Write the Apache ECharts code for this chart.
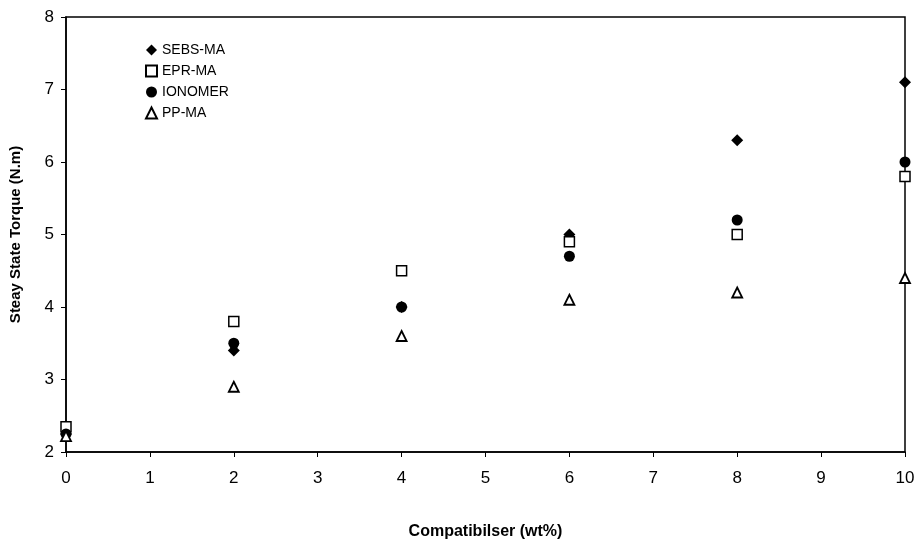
<!DOCTYPE html>
<html>
<head>
<meta charset="utf-8">
<script src="https://cdn.jsdelivr.net/npm/echarts@6/dist/echarts.min.js"></script>
<style>html,body{margin:0;padding:0;background:#fff}#c{width:920px;height:558px}</style>
</head>
<body>
<div id="c"></div>
<script>
var xValues = [0, 2, 4, 6, 8, 10];
var sebsMA  = [2.25, 3.4, 4.0, 5.0, 6.3, 7.1];
var eprMA   = [2.35, 3.8, 4.5, 4.9, 5.0, 5.8];
var ionomer = [2.25, 3.5, 4.0, 4.7, 5.2, 6.0];
var ppMA    = [2.22, 2.9, 3.6, 4.1, 4.2, 4.4];
var seriesNames = ['SEBS-MA', 'EPR-MA', 'IONOMER', 'PP-MA'];

function pts(arr) { return xValues.map(function (x, i) { return [x, arr[i]]; }); }

var chart = echarts.init(document.getElementById('c'));
var font = 'Liberation Sans, Arial, sans-serif';
chart.setOption({
  animation: false,
  grid: { left: 66, right: 15, top: 17, bottom: 106, show: true, borderColor: '#000', borderWidth: 1.5 },
  legend: {
    left: 140, top: 38, orient: 'vertical', itemGap: 7, itemWidth: 11, itemHeight: 11,
    textStyle: { fontFamily: font, fontSize: 14, color: '#000' },
    data: seriesNames
  },
  xAxis: {
    type: 'value', min: 0, max: 10, interval: 1,
    name: 'Compatibilser (wt%)', nameLocation: 'middle', nameGap: 72,
    nameTextStyle: { fontFamily: font, fontSize: 16, fontWeight: 'bold', color: '#000' },
    axisLine: { onZero: false, lineStyle: { color: '#000', width: 1.5 } },
    axisTick: { show: true, length: 5, lineStyle: { color: '#000' } },
    axisLabel: { fontFamily: font, fontSize: 17, color: '#000', margin: 18 },
    splitLine: { show: false }
  },
  yAxis: {
    type: 'value', min: 2, max: 8, interval: 1,
    name: 'Steay State Torque (N.m)', nameLocation: 'middle', nameGap: 43,
    nameTextStyle: { fontFamily: font, fontSize: 15, fontWeight: 'bold', color: '#000' },
    axisLine: { show: true, onZero: false, lineStyle: { color: '#000', width: 1.5 } },
    axisTick: { show: true, length: 5, lineStyle: { color: '#000' } },
    axisLabel: { fontFamily: font, fontSize: 17, color: '#000', margin: 12 },
    splitLine: { show: false }
  },
  series: [
    { name: seriesNames[0], type: 'scatter', symbol: 'diamond', symbolSize: 12, data: pts(sebsMA),
      itemStyle: { color: '#000', opacity: 1 } },
    { name: seriesNames[1], type: 'scatter', symbol: 'rect', symbolSize: 10, data: pts(eprMA),
      itemStyle: { color: '#fff', borderColor: '#000', borderWidth: 1.5, opacity: 1 } },
    { name: seriesNames[2], type: 'scatter', symbol: 'circle', symbolSize: 11, data: pts(ionomer),
      itemStyle: { color: '#000', opacity: 1 } },
    { name: seriesNames[3], type: 'scatter', symbol: 'triangle', symbolSize: 10, data: pts(ppMA),
      itemStyle: { color: '#fff', borderColor: '#000', borderWidth: 1.8, opacity: 1 } }
  ]
});
</script>
</body>
</html>
